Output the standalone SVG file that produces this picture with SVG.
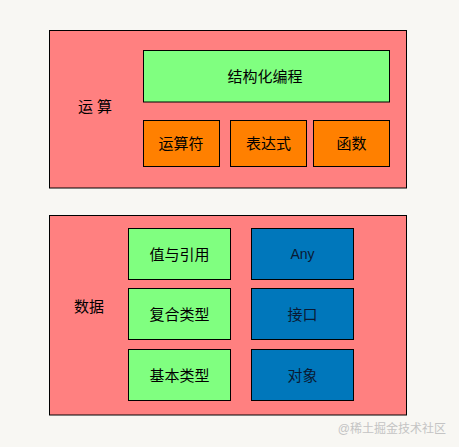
<svg xmlns="http://www.w3.org/2000/svg" width="459" height="447" viewBox="0 0 459 447">
<style>
.outer{fill:#ff8080;stroke:#000;stroke-width:1}
.g{fill:#80ff80;stroke:#000;stroke-width:1}
.o{fill:#ff8000;stroke:#000;stroke-width:1}
.b{fill:#0077bb;stroke:#000;stroke-width:1}
text{font-family:"Liberation Sans","Noto Sans CJK SC",sans-serif;font-size:15px;fill:#000;text-anchor:middle;dominant-baseline:central}
.wm{font-size:12px;fill:#c4c4c4;text-anchor:end}
</style>
<rect width="459" height="447" fill="#f8f7f3"/>
<g id="op">
<rect class="outer" x="49.5" y="30.5" width="357" height="157.5"/>
<text x="95" y="106">运 算</text>
</g>
<g id="structured">
<rect class="g" x="143.5" y="50.5" width="246" height="51.5"/>
<text x="265" y="76">结构化编程</text>
</g>
<g id="operator">
<rect class="o" x="143.5" y="120.5" width="76" height="46"/>
<text x="181" y="143.5">运算符</text>
</g>
<g id="expr">
<rect class="o" x="230.5" y="120.5" width="76" height="46"/>
<text x="268.5" y="143.5">表达式</text>
</g>
<g id="func">
<rect class="o" x="313.5" y="120.5" width="76" height="46"/>
<text x="351.5" y="143.5">函数</text>
</g>
<g id="data">
<rect class="outer" x="49.5" y="215.5" width="357" height="199.5"/>
<text x="89" y="306">数据</text>
</g>
<g id="valref">
<rect class="g" x="128.5" y="228.5" width="102" height="51"/>
<text x="179.5" y="254">值与引用</text>
</g>
<g id="compound">
<rect class="g" x="128.5" y="288.5" width="102" height="51"/>
<text x="179.5" y="314">复合类型</text>
</g>
<g id="basic">
<rect class="g" x="128.5" y="349.5" width="102" height="51"/>
<text x="179.5" y="375">基本类型</text>
</g>
<g id="any">
<rect class="b" x="251.5" y="228.5" width="102" height="51"/>
<text x="302.5" y="254" style="font-size:14px;fill:#0a1a33">Any</text>
</g>
<g id="iface">
<rect class="b" x="251.5" y="288.5" width="102" height="51"/>
<text x="302.5" y="314" style="fill:#0a1a33">接口</text>
</g>
<g id="obj">
<rect class="b" x="251.5" y="349.5" width="102" height="51"/>
<text x="302.5" y="375" style="fill:#0a1a33">对象</text>
</g>
<g id="connectors"></g>
<text class="wm" x="446" y="429">@稀土掘金技术社区</text>
</svg>
